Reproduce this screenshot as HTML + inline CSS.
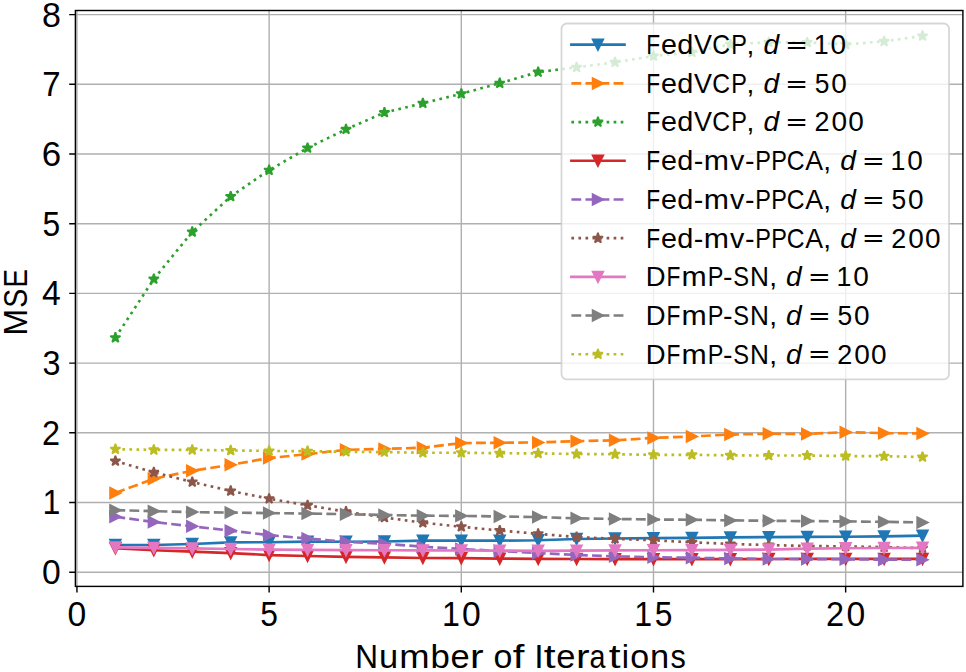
<!DOCTYPE html><html><head><meta charset="utf-8"><style>html,body{margin:0;padding:0;background:#fff;}svg{display:block;}text{font-family:"Liberation Sans",sans-serif;fill:#000;}</style></head><body>
<svg width="966" height="672" viewBox="0 0 966 672">
<rect width="966" height="672" fill="#fff"/>
<path d="M76.95 10.5 V586.4 M269.12 10.5 V586.4 M461.3 10.5 V586.4 M653.48 10.5 V586.4 M845.65 10.5 V586.4 M75.4 572.2 H962.9 M75.4 502.5 H962.9 M75.4 432.8 H962.9 M75.4 363.1 H962.9 M75.4 293.4 H962.9 M75.4 223.7 H962.9 M75.4 154 H962.9 M75.4 84.3 H962.9 M75.4 14.6 H962.9" stroke="#b0b0b0" stroke-width="1.42" fill="none"/>
<g>
<polyline points="115.39,545.02 153.82,545.02 192.25,543.97 230.69,542.37 269.12,542.23 307.56,541.67 346,541.74 384.43,541.53 422.87,540.7 461.3,540.7 499.74,540.63 538.17,540.28 576.61,539.02 615.04,538.47 653.48,538.19 691.91,537.84 730.35,537.42 768.78,537.14 807.22,536.86 845.65,536.72 884.09,536.37 922.52,535.68" stroke="#1f77b4" stroke-width="2.66" fill="none" stroke-linejoin="round" stroke-linecap="square"/>
<g fill="#1f77b4" stroke="#1f77b4" stroke-width="1.77" stroke-linejoin="miter">
<path d="M115.39 550.33L110.08 539.71L120.7 539.71ZM153.82 550.33L148.51 539.71L159.13 539.71ZM192.25 549.28L186.94 538.66L197.56 538.66ZM230.69 547.68L225.38 537.06L236 537.06ZM269.12 547.54L263.81 536.92L274.44 536.92ZM307.56 546.98L302.25 536.36L312.87 536.36ZM346 547.05L340.69 536.43L351.31 536.43ZM384.43 546.84L379.12 536.22L389.74 536.22ZM422.87 546.01L417.56 535.39L428.18 535.39ZM461.3 546.01L455.99 535.39L466.61 535.39ZM499.74 545.94L494.43 535.32L505.05 535.32ZM538.17 545.59L532.86 534.97L543.48 534.97ZM576.61 544.33L571.3 533.71L581.91 533.71ZM615.04 543.78L609.73 533.16L620.35 533.16ZM653.48 543.5L648.17 532.88L658.79 532.88ZM691.91 543.15L686.6 532.53L697.22 532.53ZM730.35 542.73L725.04 532.11L735.65 532.11ZM768.78 542.45L763.47 531.83L774.09 531.83ZM807.22 542.17L801.91 531.55L812.53 531.55ZM845.65 542.03L840.34 531.41L850.96 531.41ZM884.09 541.68L878.78 531.06L889.39 531.06ZM922.52 540.99L917.21 530.37L927.83 530.37Z"/>
</g>
<polyline points="115.39,492.95 153.82,478.8 192.25,470.72 230.69,464.86 269.12,458.03 307.56,454.13 346,449.81 384.43,448.9 422.87,447.72 461.3,443.05 499.74,442.77 538.17,442.42 576.61,441.16 615.04,440.33 653.48,437.89 691.91,436.49 730.35,434.47 768.78,433.78 807.22,433.92 845.65,432.17 884.09,433.15 922.52,433.5" stroke="#ff7f0e" stroke-width="2.66" fill="none" stroke-linejoin="round" stroke-linecap="butt" stroke-dasharray="9.82,4.25"/>
<g fill="#ff7f0e" stroke="#ff7f0e" stroke-width="1.77" stroke-linejoin="miter">
<path d="M120.7 492.95L110.08 487.64L110.08 498.26ZM159.13 478.8L148.51 473.49L148.51 484.11ZM197.56 470.72L186.94 465.41L186.94 476.03ZM236 464.86L225.38 459.55L225.38 470.17ZM274.44 458.03L263.81 452.72L263.81 463.34ZM312.87 454.13L302.25 448.82L302.25 459.44ZM351.31 449.81L340.69 444.5L340.69 455.12ZM389.74 448.9L379.12 443.59L379.12 454.21ZM428.18 447.72L417.56 442.41L417.56 453.03ZM466.61 443.05L455.99 437.74L455.99 448.36ZM505.05 442.77L494.43 437.46L494.43 448.08ZM543.48 442.42L532.86 437.11L532.86 447.73ZM581.91 441.16L571.3 435.85L571.3 446.47ZM620.35 440.33L609.73 435.02L609.73 445.64ZM658.79 437.89L648.17 432.58L648.17 443.2ZM697.22 436.49L686.6 431.18L686.6 441.8ZM735.65 434.47L725.04 429.16L725.04 439.78ZM774.09 433.78L763.47 428.47L763.47 439.09ZM812.53 433.92L801.91 428.61L801.91 439.23ZM850.96 432.17L840.34 426.86L840.34 437.48ZM889.39 433.15L878.78 427.84L878.78 438.46ZM927.83 433.5L917.21 428.19L917.21 438.81Z"/>
</g>
<polyline points="115.39,337.66 153.82,279.04 192.25,231.92 230.69,196.52 269.12,170.17 307.56,148.01 346,129.33 384.43,112.6 422.87,103.26 461.3,93.78 499.74,83.18 538.17,72.1 576.61,67.36 615.04,62.27 653.48,56.07 691.91,52.31 730.35,44.29 768.78,42.34 807.22,42.48 845.65,44.43 884.09,41.36 922.52,35.93" stroke="#2ca02c" stroke-width="2.66" fill="none" stroke-linejoin="round" stroke-linecap="butt" stroke-dasharray="2.66,4.38"/>
<g fill="#2ca02c" stroke="#2ca02c" stroke-width="1.77" stroke-linejoin="bevel">
<path d="M115.39 332.35L114.19 336.02L110.33 336.02L113.46 338.29L112.26 341.96L115.39 339.69L118.51 341.96L117.31 338.29L120.44 336.02L116.58 336.02ZM153.82 273.73L152.63 277.4L148.77 277.4L151.89 279.67L150.7 283.34L153.82 281.07L156.94 283.34L155.75 279.67L158.87 277.4L155.01 277.4ZM192.25 226.61L191.06 230.28L187.2 230.28L190.33 232.55L189.13 236.22L192.25 233.95L195.38 236.22L194.18 232.55L197.31 230.28L193.45 230.28ZM230.69 191.21L229.5 194.88L225.64 194.88L228.76 197.14L227.57 200.81L230.69 198.55L233.81 200.81L232.62 197.14L235.74 194.88L231.88 194.88ZM269.12 164.86L267.93 168.53L264.07 168.53L267.2 170.8L266 174.47L269.12 172.2L272.25 174.47L271.05 170.8L274.18 168.53L270.32 168.53ZM307.56 142.7L306.37 146.36L302.51 146.36L305.63 148.63L304.44 152.3L307.56 150.03L310.68 152.3L309.49 148.63L312.61 146.36L308.75 146.36ZM346 124.02L344.8 127.69L340.94 127.69L344.07 129.95L342.87 133.62L346 131.35L349.12 133.62L347.92 129.95L351.05 127.69L347.19 127.69ZM384.43 107.29L383.24 110.96L379.38 110.96L382.5 113.22L381.31 116.89L384.43 114.63L387.55 116.89L386.36 113.22L389.48 110.96L385.62 110.96ZM422.87 97.95L421.67 101.62L417.81 101.62L420.94 103.89L419.74 107.55L422.87 105.29L425.99 107.55L424.79 103.89L427.92 101.62L424.06 101.62ZM461.3 88.47L460.11 92.14L456.25 92.14L459.37 94.41L458.18 98.08L461.3 95.81L464.42 98.08L463.23 94.41L466.35 92.14L462.49 92.14ZM499.74 77.87L498.54 81.54L494.68 81.54L497.81 83.81L496.61 87.48L499.74 85.21L502.86 87.48L501.66 83.81L504.79 81.54L500.93 81.54ZM538.17 66.79L536.98 70.46L533.12 70.46L536.24 72.73L535.05 76.4L538.17 74.13L541.29 76.4L540.1 72.73L543.22 70.46L539.36 70.46ZM576.61 62.05L575.41 65.72L571.55 65.72L574.68 67.99L573.48 71.66L576.61 69.39L579.73 71.66L578.53 67.99L581.66 65.72L577.8 65.72ZM615.04 56.96L613.85 60.63L609.99 60.63L613.11 62.9L611.92 66.57L615.04 64.3L618.16 66.57L616.97 62.9L620.09 60.63L616.23 60.63ZM653.48 50.76L652.28 54.43L648.42 54.43L651.55 56.7L650.35 60.37L653.48 58.1L656.6 60.37L655.4 56.7L658.53 54.43L654.67 54.43ZM691.91 47L690.72 50.67L686.86 50.67L689.98 52.93L688.79 56.6L691.91 54.34L695.03 56.6L693.84 52.93L696.96 50.67L693.1 50.67ZM730.35 38.98L729.15 42.65L725.29 42.65L728.42 44.92L727.22 48.59L730.35 46.32L733.47 48.59L732.27 44.92L735.4 42.65L731.54 42.65ZM768.78 37.03L767.59 40.7L763.73 40.7L766.85 42.97L765.66 46.64L768.78 44.37L771.9 46.64L770.71 42.97L773.83 40.7L769.97 40.7ZM807.22 37.17L806.02 40.84L802.16 40.84L805.29 43.11L804.09 46.78L807.22 44.51L810.34 46.78L809.14 43.11L812.27 40.84L808.41 40.84ZM845.65 39.12L844.46 42.79L840.6 42.79L843.72 45.06L842.53 48.73L845.65 46.46L848.77 48.73L847.58 45.06L850.7 42.79L846.84 42.79ZM884.09 36.05L882.89 39.72L879.03 39.72L882.16 41.99L880.96 45.66L884.09 43.39L887.21 45.66L886.01 41.99L889.14 39.72L885.28 39.72ZM922.52 30.62L921.33 34.29L917.47 34.29L920.59 36.55L919.4 40.22L922.52 37.96L925.64 40.22L924.45 36.55L927.57 34.29L923.71 34.29Z"/>
</g>
<polyline points="115.39,548.22 153.82,550.24 192.25,551.64 230.69,553.1 269.12,555.05 307.56,556.03 346,556.87 384.43,557.42 422.87,557.98 461.3,558.19 499.74,558.61 538.17,558.89 576.61,559.03 615.04,559.1 653.48,559.17 691.91,559.17 730.35,559.17 768.78,559.03 807.22,558.89 845.65,558.89 884.09,558.89 922.52,558.89" stroke="#d62728" stroke-width="2.66" fill="none" stroke-linejoin="round" stroke-linecap="square"/>
<g fill="#d62728" stroke="#d62728" stroke-width="1.77" stroke-linejoin="miter">
<path d="M115.39 553.53L110.08 542.91L120.7 542.91ZM153.82 555.55L148.51 544.93L159.13 544.93ZM192.25 556.95L186.94 546.33L197.56 546.33ZM230.69 558.41L225.38 547.79L236 547.79ZM269.12 560.36L263.81 549.74L274.44 549.74ZM307.56 561.34L302.25 550.72L312.87 550.72ZM346 562.18L340.69 551.56L351.31 551.56ZM384.43 562.73L379.12 552.11L389.74 552.11ZM422.87 563.29L417.56 552.67L428.18 552.67ZM461.3 563.5L455.99 552.88L466.61 552.88ZM499.74 563.92L494.43 553.3L505.05 553.3ZM538.17 564.2L532.86 553.58L543.48 553.58ZM576.61 564.34L571.3 553.72L581.91 553.72ZM615.04 564.41L609.73 553.79L620.35 553.79ZM653.48 564.48L648.17 553.86L658.79 553.86ZM691.91 564.48L686.6 553.86L697.22 553.86ZM730.35 564.48L725.04 553.86L735.65 553.86ZM768.78 564.34L763.47 553.72L774.09 553.72ZM807.22 564.2L801.91 553.58L812.53 553.58ZM845.65 564.2L840.34 553.58L850.96 553.58ZM884.09 564.2L878.78 553.58L889.39 553.58ZM922.52 564.2L917.21 553.58L927.83 553.58Z"/>
</g>
<polyline points="115.39,516.72 153.82,522.02 192.25,526.34 230.69,530.66 269.12,535.19 307.56,538.53 346,541.74 384.43,543.76 422.87,546.69 461.3,548.99 499.74,551.01 538.17,553.1 576.61,554.91 615.04,556.38 653.48,557.21 691.91,557.77 730.35,558.4 768.78,558.96 807.22,559.1 845.65,559.31 884.09,559.65 922.52,559.79" stroke="#9467bd" stroke-width="2.66" fill="none" stroke-linejoin="round" stroke-linecap="butt" stroke-dasharray="9.82,4.25"/>
<g fill="#9467bd" stroke="#9467bd" stroke-width="1.77" stroke-linejoin="miter">
<path d="M120.7 516.72L110.08 511.41L110.08 522.03ZM159.13 522.02L148.51 516.71L148.51 527.33ZM197.56 526.34L186.94 521.03L186.94 531.65ZM236 530.66L225.38 525.35L225.38 535.97ZM274.44 535.19L263.81 529.88L263.81 540.5ZM312.87 538.53L302.25 533.22L302.25 543.84ZM351.31 541.74L340.69 536.43L340.69 547.05ZM389.74 543.76L379.12 538.45L379.12 549.07ZM428.18 546.69L417.56 541.38L417.56 552ZM466.61 548.99L455.99 543.68L455.99 554.3ZM505.05 551.01L494.43 545.7L494.43 556.32ZM543.48 553.1L532.86 547.79L532.86 558.41ZM581.91 554.91L571.3 549.6L571.3 560.22ZM620.35 556.38L609.73 551.07L609.73 561.69ZM658.79 557.21L648.17 551.9L648.17 562.52ZM697.22 557.77L686.6 552.46L686.6 563.08ZM735.65 558.4L725.04 553.09L725.04 563.71ZM774.09 558.96L763.47 553.65L763.47 564.27ZM812.53 559.1L801.91 553.79L801.91 564.41ZM850.96 559.31L840.34 554L840.34 564.62ZM889.39 559.65L878.78 554.34L878.78 564.96ZM927.83 559.79L917.21 554.48L917.21 565.1Z"/>
</g>
<polyline points="115.39,461.1 153.82,472.39 192.25,482.01 230.69,490.93 269.12,498.74 307.56,505.29 346,511.7 384.43,517.49 422.87,522.71 461.3,526.76 499.74,530.52 538.17,533.8 576.61,537.07 615.04,538.81 653.48,540.28 691.91,542.3 730.35,543.9 768.78,545.09 807.22,545.99 845.65,546.41 884.09,547.11 922.52,548.15" stroke="#8c564b" stroke-width="2.66" fill="none" stroke-linejoin="round" stroke-linecap="butt" stroke-dasharray="2.66,4.38"/>
<g fill="#8c564b" stroke="#8c564b" stroke-width="1.77" stroke-linejoin="bevel">
<path d="M115.39 455.79L114.19 459.46L110.33 459.46L113.46 461.72L112.26 465.39L115.39 463.13L118.51 465.39L117.31 461.72L120.44 459.46L116.58 459.46ZM153.82 467.08L152.63 470.75L148.77 470.75L151.89 473.02L150.7 476.69L153.82 474.42L156.94 476.69L155.75 473.02L158.87 470.75L155.01 470.75ZM192.25 476.7L191.06 480.37L187.2 480.37L190.33 482.63L189.13 486.3L192.25 484.04L195.38 486.3L194.18 482.63L197.31 480.37L193.45 480.37ZM230.69 485.62L229.5 489.29L225.64 489.29L228.76 491.56L227.57 495.23L230.69 492.96L233.81 495.23L232.62 491.56L235.74 489.29L231.88 489.29ZM269.12 493.43L267.93 497.1L264.07 497.1L267.2 499.36L266 503.03L269.12 500.76L272.25 503.03L271.05 499.36L274.18 497.1L270.32 497.1ZM307.56 499.98L306.37 503.65L302.51 503.65L305.63 505.91L304.44 509.58L307.56 507.32L310.68 509.58L309.49 505.91L312.61 503.65L308.75 503.65ZM346 506.39L344.8 510.06L340.94 510.06L344.07 512.33L342.87 516L346 513.73L349.12 516L347.92 512.33L351.05 510.06L347.19 510.06ZM384.43 512.18L383.24 515.84L379.38 515.84L382.5 518.11L381.31 521.78L384.43 519.51L387.55 521.78L386.36 518.11L389.48 515.84L385.62 515.84ZM422.87 517.4L421.67 521.07L417.81 521.07L420.94 523.34L419.74 527.01L422.87 524.74L425.99 527.01L424.79 523.34L427.92 521.07L424.06 521.07ZM461.3 521.45L460.11 525.11L456.25 525.11L459.37 527.38L458.18 531.05L461.3 528.78L464.42 531.05L463.23 527.38L466.35 525.11L462.49 525.11ZM499.74 525.21L498.54 528.88L494.68 528.88L497.81 531.15L496.61 534.82L499.74 532.55L502.86 534.82L501.66 531.15L504.79 528.88L500.93 528.88ZM538.17 528.49L536.98 532.15L533.12 532.15L536.24 534.42L535.05 538.09L538.17 535.82L541.29 538.09L540.1 534.42L543.22 532.15L539.36 532.15ZM576.61 531.76L575.41 535.43L571.55 535.43L574.68 537.7L573.48 541.37L576.61 539.1L579.73 541.37L578.53 537.7L581.66 535.43L577.8 535.43ZM615.04 533.5L613.85 537.17L609.99 537.17L613.11 539.44L611.92 543.11L615.04 540.84L618.16 543.11L616.97 539.44L620.09 537.17L616.23 537.17ZM653.48 534.97L652.28 538.64L648.42 538.64L651.55 540.9L650.35 544.57L653.48 542.31L656.6 544.57L655.4 540.9L658.53 538.64L654.67 538.64ZM691.91 536.99L690.72 540.66L686.86 540.66L689.98 542.93L688.79 546.59L691.91 544.33L695.03 546.59L693.84 542.93L696.96 540.66L693.1 540.66ZM730.35 538.59L729.15 542.26L725.29 542.26L728.42 544.53L727.22 548.2L730.35 545.93L733.47 548.2L732.27 544.53L735.4 542.26L731.54 542.26ZM768.78 539.78L767.59 543.45L763.73 543.45L766.85 545.71L765.66 549.38L768.78 547.11L771.9 549.38L770.71 545.71L773.83 543.45L769.97 543.45ZM807.22 540.68L806.02 544.35L802.16 544.35L805.29 546.62L804.09 550.29L807.22 548.02L810.34 550.29L809.14 546.62L812.27 544.35L808.41 544.35ZM845.65 541.1L844.46 544.77L840.6 544.77L843.72 547.04L842.53 550.71L845.65 548.44L848.77 550.71L847.58 547.04L850.7 544.77L846.84 544.77ZM884.09 541.8L882.89 545.47L879.03 545.47L882.16 547.73L880.96 551.4L884.09 549.14L887.21 551.4L886.01 547.73L889.14 545.47L885.28 545.47ZM922.52 542.84L921.33 546.51L917.47 546.51L920.59 548.78L919.4 552.45L922.52 550.18L925.64 552.45L924.45 548.78L927.57 546.51L923.71 546.51Z"/>
</g>
<polyline points="115.39,547.39 153.82,547.87 192.25,548.36 230.69,548.99 269.12,549.69 307.56,549.9 346,550.11 384.43,550.24 422.87,550.38 461.3,550.52 499.74,550.66 538.17,550.8 576.61,550.59 615.04,550.38 653.48,550.24 691.91,550.11 730.35,549.9 768.78,549.55 807.22,548.64 845.65,548.22 884.09,548.01 922.52,547.81" stroke="#e377c2" stroke-width="2.66" fill="none" stroke-linejoin="round" stroke-linecap="square"/>
<g fill="#e377c2" stroke="#e377c2" stroke-width="1.77" stroke-linejoin="miter">
<path d="M115.39 552.7L110.08 542.08L120.7 542.08ZM153.82 553.18L148.51 542.56L159.13 542.56ZM192.25 553.67L186.94 543.05L197.56 543.05ZM230.69 554.3L225.38 543.68L236 543.68ZM269.12 555L263.81 544.38L274.44 544.38ZM307.56 555.21L302.25 544.59L312.87 544.59ZM346 555.42L340.69 544.8L351.31 544.8ZM384.43 555.55L379.12 544.93L389.74 544.93ZM422.87 555.69L417.56 545.07L428.18 545.07ZM461.3 555.83L455.99 545.21L466.61 545.21ZM499.74 555.97L494.43 545.35L505.05 545.35ZM538.17 556.11L532.86 545.49L543.48 545.49ZM576.61 555.9L571.3 545.28L581.91 545.28ZM615.04 555.69L609.73 545.07L620.35 545.07ZM653.48 555.55L648.17 544.93L658.79 544.93ZM691.91 555.42L686.6 544.8L697.22 544.8ZM730.35 555.21L725.04 544.59L735.65 544.59ZM768.78 554.86L763.47 544.24L774.09 544.24ZM807.22 553.95L801.91 543.33L812.53 543.33ZM845.65 553.53L840.34 542.91L850.96 542.91ZM884.09 553.32L878.78 542.7L889.39 542.7ZM922.52 553.12L917.21 542.5L927.83 542.5Z"/>
</g>
<polyline points="115.39,510.17 153.82,511.14 192.25,512.12 230.69,512.61 269.12,513.09 307.56,513.58 346,514.14 384.43,515.05 422.87,515.67 461.3,515.88 499.74,516.44 538.17,517.07 576.61,518.32 615.04,518.95 653.48,519.51 691.91,519.79 730.35,520.41 768.78,520.76 807.22,521.11 845.65,521.39 884.09,521.88 922.52,522.43" stroke="#7f7f7f" stroke-width="2.66" fill="none" stroke-linejoin="round" stroke-linecap="butt" stroke-dasharray="9.82,4.25"/>
<g fill="#7f7f7f" stroke="#7f7f7f" stroke-width="1.77" stroke-linejoin="miter">
<path d="M120.7 510.17L110.08 504.86L110.08 515.48ZM159.13 511.14L148.51 505.83L148.51 516.45ZM197.56 512.12L186.94 506.81L186.94 517.43ZM236 512.61L225.38 507.3L225.38 517.92ZM274.44 513.09L263.81 507.78L263.81 518.4ZM312.87 513.58L302.25 508.27L302.25 518.89ZM351.31 514.14L340.69 508.83L340.69 519.45ZM389.74 515.05L379.12 509.74L379.12 520.36ZM428.18 515.67L417.56 510.36L417.56 520.98ZM466.61 515.88L455.99 510.57L455.99 521.19ZM505.05 516.44L494.43 511.13L494.43 521.75ZM543.48 517.07L532.86 511.76L532.86 522.38ZM581.91 518.32L571.3 513.01L571.3 523.63ZM620.35 518.95L609.73 513.64L609.73 524.26ZM658.79 519.51L648.17 514.2L648.17 524.82ZM697.22 519.79L686.6 514.48L686.6 525.1ZM735.65 520.41L725.04 515.1L725.04 525.72ZM774.09 520.76L763.47 515.45L763.47 526.07ZM812.53 521.11L801.91 515.8L801.91 526.42ZM850.96 521.39L840.34 516.08L840.34 526.7ZM889.39 521.88L878.78 516.57L878.78 527.19ZM927.83 522.43L917.21 517.12L917.21 527.74Z"/>
</g>
<polyline points="115.39,449.18 153.82,449.88 192.25,449.88 230.69,450.43 269.12,450.92 307.56,451.2 346,451.83 384.43,452.11 422.87,452.73 461.3,452.73 499.74,453.22 538.17,453.43 576.61,453.99 615.04,454.2 653.48,454.83 691.91,454.83 730.35,455.38 768.78,455.52 807.22,455.52 845.65,456.01 884.09,456.22 922.52,456.99" stroke="#bcbd22" stroke-width="2.66" fill="none" stroke-linejoin="round" stroke-linecap="butt" stroke-dasharray="2.66,4.38"/>
<g fill="#bcbd22" stroke="#bcbd22" stroke-width="1.77" stroke-linejoin="bevel">
<path d="M115.39 443.87L114.19 447.54L110.33 447.54L113.46 449.81L112.26 453.48L115.39 451.21L118.51 453.48L117.31 449.81L120.44 447.54L116.58 447.54ZM153.82 444.57L152.63 448.24L148.77 448.24L151.89 450.5L150.7 454.17L153.82 451.9L156.94 454.17L155.75 450.5L158.87 448.24L155.01 448.24ZM192.25 444.57L191.06 448.24L187.2 448.24L190.33 450.5L189.13 454.17L192.25 451.9L195.38 454.17L194.18 450.5L197.31 448.24L193.45 448.24ZM230.69 445.12L229.5 448.79L225.64 448.79L228.76 451.06L227.57 454.73L230.69 452.46L233.81 454.73L232.62 451.06L235.74 448.79L231.88 448.79ZM269.12 445.61L267.93 449.28L264.07 449.28L267.2 451.55L266 455.22L269.12 452.95L272.25 455.22L271.05 451.55L274.18 449.28L270.32 449.28ZM307.56 445.89L306.37 449.56L302.51 449.56L305.63 451.83L304.44 455.5L307.56 453.23L310.68 455.5L309.49 451.83L312.61 449.56L308.75 449.56ZM346 446.52L344.8 450.19L340.94 450.19L344.07 452.45L342.87 456.12L346 453.86L349.12 456.12L347.92 452.45L351.05 450.19L347.19 450.19ZM384.43 446.8L383.24 450.47L379.38 450.47L382.5 452.73L381.31 456.4L384.43 454.14L387.55 456.4L386.36 452.73L389.48 450.47L385.62 450.47ZM422.87 447.42L421.67 451.09L417.81 451.09L420.94 453.36L419.74 457.03L422.87 454.76L425.99 457.03L424.79 453.36L427.92 451.09L424.06 451.09ZM461.3 447.42L460.11 451.09L456.25 451.09L459.37 453.36L458.18 457.03L461.3 454.76L464.42 457.03L463.23 453.36L466.35 451.09L462.49 451.09ZM499.74 447.91L498.54 451.58L494.68 451.58L497.81 453.85L496.61 457.52L499.74 455.25L502.86 457.52L501.66 453.85L504.79 451.58L500.93 451.58ZM538.17 448.12L536.98 451.79L533.12 451.79L536.24 454.06L535.05 457.73L538.17 455.46L541.29 457.73L540.1 454.06L543.22 451.79L539.36 451.79ZM576.61 448.68L575.41 452.35L571.55 452.35L574.68 454.62L573.48 458.28L576.61 456.02L579.73 458.28L578.53 454.62L581.66 452.35L577.8 452.35ZM615.04 448.89L613.85 452.56L609.99 452.56L613.11 454.82L611.92 458.49L615.04 456.23L618.16 458.49L616.97 454.82L620.09 452.56L616.23 452.56ZM653.48 449.52L652.28 453.18L648.42 453.18L651.55 455.45L650.35 459.12L653.48 456.85L656.6 459.12L655.4 455.45L658.53 453.18L654.67 453.18ZM691.91 449.52L690.72 453.18L686.86 453.18L689.98 455.45L688.79 459.12L691.91 456.85L695.03 459.12L693.84 455.45L696.96 453.18L693.1 453.18ZM730.35 450.07L729.15 453.74L725.29 453.74L728.42 456.01L727.22 459.68L730.35 457.41L733.47 459.68L732.27 456.01L735.4 453.74L731.54 453.74ZM768.78 450.21L767.59 453.88L763.73 453.88L766.85 456.15L765.66 459.82L768.78 457.55L771.9 459.82L770.71 456.15L773.83 453.88L769.97 453.88ZM807.22 450.21L806.02 453.88L802.16 453.88L805.29 456.15L804.09 459.82L807.22 457.55L810.34 459.82L809.14 456.15L812.27 453.88L808.41 453.88ZM845.65 450.7L844.46 454.37L840.6 454.37L843.72 456.64L842.53 460.31L845.65 458.04L848.77 460.31L847.58 456.64L850.7 454.37L846.84 454.37ZM884.09 450.91L882.89 454.58L879.03 454.58L882.16 456.85L880.96 460.52L884.09 458.25L887.21 460.52L886.01 456.85L889.14 454.58L885.28 454.58ZM922.52 451.68L921.33 455.35L917.47 455.35L920.59 457.61L919.4 461.28L922.52 459.01L925.64 461.28L924.45 457.61L927.57 455.35L923.71 455.35Z"/>
</g>
</g>
<rect x="75.4" y="10.5" width="887.5" height="575.9" fill="none" stroke="#000" stroke-width="1.42" stroke-linejoin="miter"/>
<path d="M76.95 586.4 v6.2 M269.12 586.4 v6.2 M461.3 586.4 v6.2 M653.48 586.4 v6.2 M845.65 586.4 v6.2 M75.4 572.2 h-6.2 M75.4 502.5 h-6.2 M75.4 432.8 h-6.2 M75.4 363.1 h-6.2 M75.4 293.4 h-6.2 M75.4 223.7 h-6.2 M75.4 154 h-6.2 M75.4 84.3 h-6.2 M75.4 14.6 h-6.2" stroke="#000" stroke-width="1.42" fill="none"/>
<text x="42.11" y="584.17" font-size="34.2" textLength="18.73" lengthAdjust="spacingAndGlyphs">0</text>
<text x="42.38" y="514.47" font-size="34.2" textLength="17.89" lengthAdjust="spacingAndGlyphs">1</text>
<text x="42.03" y="444.77" font-size="34.2" textLength="18.05" lengthAdjust="spacingAndGlyphs">2</text>
<text x="42.52" y="375.07" font-size="34.2" textLength="17.99" lengthAdjust="spacingAndGlyphs">3</text>
<text x="42.11" y="305.37" font-size="34.2" textLength="18.73" lengthAdjust="spacingAndGlyphs">4</text>
<text x="42.51" y="235.67" font-size="34.2" textLength="17.68" lengthAdjust="spacingAndGlyphs">5</text>
<text x="41.78" y="165.97" font-size="34.2" textLength="19.39" lengthAdjust="spacingAndGlyphs">6</text>
<text x="42.25" y="96.27" font-size="34.2" textLength="18.32" lengthAdjust="spacingAndGlyphs">7</text>
<text x="42.01" y="26.57" font-size="34.2" textLength="18.93" lengthAdjust="spacingAndGlyphs">8</text>
<text y="626.00" font-size="34.20"><tspan x="67.58" textLength="18.73" lengthAdjust="spacingAndGlyphs">0</tspan></text>
<text y="626.00" font-size="34.20"><tspan x="260.15" textLength="17.68" lengthAdjust="spacingAndGlyphs">5</tspan></text>
<text y="626.00" font-size="34.20"><tspan x="442.03" textLength="17.89" lengthAdjust="spacingAndGlyphs">1</tspan><tspan x="462.09" textLength="18.73" lengthAdjust="spacingAndGlyphs">0</tspan></text>
<text y="626.00" font-size="34.20"><tspan x="634.21" textLength="17.89" lengthAdjust="spacingAndGlyphs">1</tspan><tspan x="654.67" textLength="17.68" lengthAdjust="spacingAndGlyphs">5</tspan></text>
<text y="626.00" font-size="34.20"><tspan x="826.03" textLength="18.05" lengthAdjust="spacingAndGlyphs">2</tspan><tspan x="846.44" textLength="18.73" lengthAdjust="spacingAndGlyphs">0</tspan></text>
<text y="667.50" font-size="33.90"><tspan x="355.22" textLength="22.79" lengthAdjust="spacingAndGlyphs">N</tspan><tspan x="379.05" textLength="19.16" lengthAdjust="spacingAndGlyphs">u</tspan><tspan x="399.30" textLength="30.32" lengthAdjust="spacingAndGlyphs">m</tspan><tspan x="430.60" textLength="19.33" lengthAdjust="spacingAndGlyphs">b</tspan><tspan x="450.52" textLength="19.19" lengthAdjust="spacingAndGlyphs">e</tspan><tspan x="470.06" textLength="13.63" lengthAdjust="spacingAndGlyphs">r</tspan> <tspan x="493.51" textLength="18.89" lengthAdjust="spacingAndGlyphs">o</tspan><tspan x="512.86" textLength="11.66" lengthAdjust="spacingAndGlyphs">f</tspan> <tspan x="534.14" textLength="9.39" lengthAdjust="spacingAndGlyphs">I</tspan><tspan x="543.76" textLength="11.86" lengthAdjust="spacingAndGlyphs">t</tspan><tspan x="556.37" textLength="19.19" lengthAdjust="spacingAndGlyphs">e</tspan><tspan x="575.91" textLength="13.63" lengthAdjust="spacingAndGlyphs">r</tspan><tspan x="589.56" textLength="15.98" lengthAdjust="spacingAndGlyphs">a</tspan><tspan x="608.66" textLength="11.86" lengthAdjust="spacingAndGlyphs">t</tspan><tspan x="621.80" textLength="7.26" lengthAdjust="spacingAndGlyphs">i</tspan><tspan x="630.19" textLength="18.89" lengthAdjust="spacingAndGlyphs">o</tspan><tspan x="650.01" textLength="19.16" lengthAdjust="spacingAndGlyphs">n</tspan><tspan x="670.53" textLength="15.31" lengthAdjust="spacingAndGlyphs">s</tspan></text>
<text transform="rotate(-90)" y="27.30" font-size="33.90"><tspan x="-335.61" textLength="26.54" lengthAdjust="spacingAndGlyphs">M</tspan><tspan x="-307.76" textLength="19.00" lengthAdjust="spacingAndGlyphs">S</tspan><tspan x="-287.42" textLength="18.47" lengthAdjust="spacingAndGlyphs">E</tspan></text>
<rect x="561.5" y="23.5" width="387.5" height="355.9" rx="5.31" ry="5.31" fill="#fff" fill-opacity="0.8" stroke="#ccc" stroke-opacity="0.8" stroke-width="1.77"/>
<path d="M571.4 44.7 H624.5" stroke="#1f77b4" stroke-width="2.66" fill="none" stroke-linecap="square"/>
<path d="M597.95 50.01L592.64 39.39L603.26 39.39Z" fill="#1f77b4" stroke="#1f77b4" stroke-width="1.77" stroke-linejoin="miter"/>
<text y="54.05" font-size="28.10"><tspan x="646.14" textLength="13.90" lengthAdjust="spacingAndGlyphs">F</tspan><tspan x="660.92" textLength="15.95" lengthAdjust="spacingAndGlyphs">e</tspan><tspan x="677.26" textLength="16.05" lengthAdjust="spacingAndGlyphs">d</tspan><tspan x="693.95" textLength="17.97" lengthAdjust="spacingAndGlyphs">V</tspan><tspan x="712.26" textLength="17.80" lengthAdjust="spacingAndGlyphs">C</tspan><tspan x="731.24" textLength="15.66" lengthAdjust="spacingAndGlyphs">P</tspan><tspan x="746.61" textLength="7.81" lengthAdjust="spacingAndGlyphs">,</tspan></text>
<text x="763.4" y="54.05" font-size="28.1" font-style="italic">d</text>
<text x="786.6" y="51.95" font-size="18.8" font-weight="bold" textLength="20.11" lengthAdjust="spacingAndGlyphs">=</text>
<text y="54.05" font-size="28.10"><tspan x="813.81" textLength="14.87" lengthAdjust="spacingAndGlyphs">1</tspan><tspan x="830.48" textLength="15.57" lengthAdjust="spacingAndGlyphs">0</tspan></text>
<path d="M571.4 83.39 H624.5" stroke="#ff7f0e" stroke-width="2.66" fill="none" stroke-linecap="butt" stroke-dasharray="9.82,4.25"/>
<path d="M603.26 83.39L592.64 78.08L592.64 88.7Z" fill="#ff7f0e" stroke="#ff7f0e" stroke-width="1.77" stroke-linejoin="miter"/>
<text y="92.74" font-size="28.10"><tspan x="646.14" textLength="13.90" lengthAdjust="spacingAndGlyphs">F</tspan><tspan x="660.92" textLength="15.95" lengthAdjust="spacingAndGlyphs">e</tspan><tspan x="677.26" textLength="16.05" lengthAdjust="spacingAndGlyphs">d</tspan><tspan x="693.95" textLength="17.97" lengthAdjust="spacingAndGlyphs">V</tspan><tspan x="712.26" textLength="17.80" lengthAdjust="spacingAndGlyphs">C</tspan><tspan x="731.24" textLength="15.66" lengthAdjust="spacingAndGlyphs">P</tspan><tspan x="746.61" textLength="7.81" lengthAdjust="spacingAndGlyphs">,</tspan></text>
<text x="763.4" y="92.74" font-size="28.1" font-style="italic">d</text>
<text x="786.6" y="90.64" font-size="18.8" font-weight="bold" textLength="20.11" lengthAdjust="spacingAndGlyphs">=</text>
<text y="92.74" font-size="28.10"><tspan x="814.79" textLength="14.69" lengthAdjust="spacingAndGlyphs">5</tspan><tspan x="831.35" textLength="15.57" lengthAdjust="spacingAndGlyphs">0</tspan></text>
<path d="M571.4 122.08 H624.5" stroke="#2ca02c" stroke-width="2.66" fill="none" stroke-linecap="butt" stroke-dasharray="2.66,4.38"/>
<path d="M597.95 116.77L596.76 120.44L592.9 120.44L596.02 122.71L594.83 126.38L597.95 124.11L601.07 126.38L599.88 122.71L603 120.44L599.14 120.44Z" fill="#2ca02c" stroke="#2ca02c" stroke-width="1.77" stroke-linejoin="bevel"/>
<text y="131.43" font-size="28.10"><tspan x="646.14" textLength="13.90" lengthAdjust="spacingAndGlyphs">F</tspan><tspan x="660.92" textLength="15.95" lengthAdjust="spacingAndGlyphs">e</tspan><tspan x="677.26" textLength="16.05" lengthAdjust="spacingAndGlyphs">d</tspan><tspan x="693.95" textLength="17.97" lengthAdjust="spacingAndGlyphs">V</tspan><tspan x="712.26" textLength="17.80" lengthAdjust="spacingAndGlyphs">C</tspan><tspan x="731.24" textLength="15.66" lengthAdjust="spacingAndGlyphs">P</tspan><tspan x="746.61" textLength="7.81" lengthAdjust="spacingAndGlyphs">,</tspan></text>
<text x="763.4" y="131.43" font-size="28.1" font-style="italic">d</text>
<text x="786.6" y="129.33" font-size="18.8" font-weight="bold" textLength="20.11" lengthAdjust="spacingAndGlyphs">=</text>
<text y="131.43" font-size="28.10"><tspan x="814.49" textLength="15.00" lengthAdjust="spacingAndGlyphs">2</tspan><tspan x="831.45" textLength="15.57" lengthAdjust="spacingAndGlyphs">0</tspan><tspan x="848.35" textLength="15.57" lengthAdjust="spacingAndGlyphs">0</tspan></text>
<path d="M571.4 160.77 H624.5" stroke="#d62728" stroke-width="2.66" fill="none" stroke-linecap="square"/>
<path d="M597.95 166.08L592.64 155.46L603.26 155.46Z" fill="#d62728" stroke="#d62728" stroke-width="1.77" stroke-linejoin="miter"/>
<text y="170.12" font-size="28.10"><tspan x="646.14" textLength="13.90" lengthAdjust="spacingAndGlyphs">F</tspan><tspan x="660.92" textLength="15.95" lengthAdjust="spacingAndGlyphs">e</tspan><tspan x="677.26" textLength="16.05" lengthAdjust="spacingAndGlyphs">d</tspan><tspan x="693.88" textLength="9.53" lengthAdjust="spacingAndGlyphs">-</tspan><tspan x="703.84" textLength="25.20" lengthAdjust="spacingAndGlyphs">m</tspan><tspan x="730.00" textLength="14.33" lengthAdjust="spacingAndGlyphs">v</tspan><tspan x="745.04" textLength="9.53" lengthAdjust="spacingAndGlyphs">-</tspan><tspan x="755.27" textLength="15.66" lengthAdjust="spacingAndGlyphs">P</tspan><tspan x="771.28" textLength="15.66" lengthAdjust="spacingAndGlyphs">P</tspan><tspan x="786.85" textLength="17.80" lengthAdjust="spacingAndGlyphs">C</tspan><tspan x="805.31" textLength="17.84" lengthAdjust="spacingAndGlyphs">A</tspan><tspan x="823.36" textLength="7.81" lengthAdjust="spacingAndGlyphs">,</tspan></text>
<text x="840.15" y="170.12" font-size="28.1" font-style="italic">d</text>
<text x="863.35" y="168.02" font-size="18.8" font-weight="bold" textLength="20.11" lengthAdjust="spacingAndGlyphs">=</text>
<text y="170.12" font-size="28.10"><tspan x="890.56" textLength="14.87" lengthAdjust="spacingAndGlyphs">1</tspan><tspan x="907.23" textLength="15.57" lengthAdjust="spacingAndGlyphs">0</tspan></text>
<path d="M571.4 199.46 H624.5" stroke="#9467bd" stroke-width="2.66" fill="none" stroke-linecap="butt" stroke-dasharray="9.82,4.25"/>
<path d="M603.26 199.46L592.64 194.15L592.64 204.77Z" fill="#9467bd" stroke="#9467bd" stroke-width="1.77" stroke-linejoin="miter"/>
<text y="208.81" font-size="28.10"><tspan x="646.14" textLength="13.90" lengthAdjust="spacingAndGlyphs">F</tspan><tspan x="660.92" textLength="15.95" lengthAdjust="spacingAndGlyphs">e</tspan><tspan x="677.26" textLength="16.05" lengthAdjust="spacingAndGlyphs">d</tspan><tspan x="693.88" textLength="9.53" lengthAdjust="spacingAndGlyphs">-</tspan><tspan x="703.84" textLength="25.20" lengthAdjust="spacingAndGlyphs">m</tspan><tspan x="730.00" textLength="14.33" lengthAdjust="spacingAndGlyphs">v</tspan><tspan x="745.04" textLength="9.53" lengthAdjust="spacingAndGlyphs">-</tspan><tspan x="755.27" textLength="15.66" lengthAdjust="spacingAndGlyphs">P</tspan><tspan x="771.28" textLength="15.66" lengthAdjust="spacingAndGlyphs">P</tspan><tspan x="786.85" textLength="17.80" lengthAdjust="spacingAndGlyphs">C</tspan><tspan x="805.31" textLength="17.84" lengthAdjust="spacingAndGlyphs">A</tspan><tspan x="823.36" textLength="7.81" lengthAdjust="spacingAndGlyphs">,</tspan></text>
<text x="840.15" y="208.81" font-size="28.1" font-style="italic">d</text>
<text x="863.35" y="206.71" font-size="18.8" font-weight="bold" textLength="20.11" lengthAdjust="spacingAndGlyphs">=</text>
<text y="208.81" font-size="28.10"><tspan x="891.54" textLength="14.69" lengthAdjust="spacingAndGlyphs">5</tspan><tspan x="908.10" textLength="15.57" lengthAdjust="spacingAndGlyphs">0</tspan></text>
<path d="M571.4 238.15 H624.5" stroke="#8c564b" stroke-width="2.66" fill="none" stroke-linecap="butt" stroke-dasharray="2.66,4.38"/>
<path d="M597.95 232.84L596.76 236.51L592.9 236.51L596.02 238.78L594.83 242.45L597.95 240.18L601.07 242.45L599.88 238.78L603 236.51L599.14 236.51Z" fill="#8c564b" stroke="#8c564b" stroke-width="1.77" stroke-linejoin="bevel"/>
<text y="247.50" font-size="28.10"><tspan x="646.14" textLength="13.90" lengthAdjust="spacingAndGlyphs">F</tspan><tspan x="660.92" textLength="15.95" lengthAdjust="spacingAndGlyphs">e</tspan><tspan x="677.26" textLength="16.05" lengthAdjust="spacingAndGlyphs">d</tspan><tspan x="693.88" textLength="9.53" lengthAdjust="spacingAndGlyphs">-</tspan><tspan x="703.84" textLength="25.20" lengthAdjust="spacingAndGlyphs">m</tspan><tspan x="730.00" textLength="14.33" lengthAdjust="spacingAndGlyphs">v</tspan><tspan x="745.04" textLength="9.53" lengthAdjust="spacingAndGlyphs">-</tspan><tspan x="755.27" textLength="15.66" lengthAdjust="spacingAndGlyphs">P</tspan><tspan x="771.28" textLength="15.66" lengthAdjust="spacingAndGlyphs">P</tspan><tspan x="786.85" textLength="17.80" lengthAdjust="spacingAndGlyphs">C</tspan><tspan x="805.31" textLength="17.84" lengthAdjust="spacingAndGlyphs">A</tspan><tspan x="823.36" textLength="7.81" lengthAdjust="spacingAndGlyphs">,</tspan></text>
<text x="840.15" y="247.5" font-size="28.1" font-style="italic">d</text>
<text x="863.35" y="245.4" font-size="18.8" font-weight="bold" textLength="20.11" lengthAdjust="spacingAndGlyphs">=</text>
<text y="247.50" font-size="28.10"><tspan x="891.24" textLength="15.00" lengthAdjust="spacingAndGlyphs">2</tspan><tspan x="908.20" textLength="15.57" lengthAdjust="spacingAndGlyphs">0</tspan><tspan x="925.09" textLength="15.57" lengthAdjust="spacingAndGlyphs">0</tspan></text>
<path d="M571.4 276.84 H624.5" stroke="#e377c2" stroke-width="2.66" fill="none" stroke-linecap="square"/>
<path d="M597.95 282.15L592.64 271.53L603.26 271.53Z" fill="#e377c2" stroke="#e377c2" stroke-width="1.77" stroke-linejoin="miter"/>
<text y="286.19" font-size="28.10"><tspan x="645.75" textLength="19.84" lengthAdjust="spacingAndGlyphs">D</tspan><tspan x="666.58" textLength="13.90" lengthAdjust="spacingAndGlyphs">F</tspan><tspan x="681.52" textLength="25.20" lengthAdjust="spacingAndGlyphs">m</tspan><tspan x="707.66" textLength="15.66" lengthAdjust="spacingAndGlyphs">P</tspan><tspan x="723.01" textLength="9.53" lengthAdjust="spacingAndGlyphs">-</tspan><tspan x="733.24" textLength="15.79" lengthAdjust="spacingAndGlyphs">S</tspan><tspan x="749.88" textLength="18.94" lengthAdjust="spacingAndGlyphs">N</tspan><tspan x="769.33" textLength="7.81" lengthAdjust="spacingAndGlyphs">,</tspan></text>
<text x="786.11" y="286.19" font-size="28.1" font-style="italic">d</text>
<text x="809.32" y="284.09" font-size="18.8" font-weight="bold" textLength="20.11" lengthAdjust="spacingAndGlyphs">=</text>
<text y="286.19" font-size="28.10"><tspan x="836.53" textLength="14.87" lengthAdjust="spacingAndGlyphs">1</tspan><tspan x="853.19" textLength="15.57" lengthAdjust="spacingAndGlyphs">0</tspan></text>
<path d="M571.4 315.53 H624.5" stroke="#7f7f7f" stroke-width="2.66" fill="none" stroke-linecap="butt" stroke-dasharray="9.82,4.25"/>
<path d="M603.26 315.53L592.64 310.22L592.64 320.84Z" fill="#7f7f7f" stroke="#7f7f7f" stroke-width="1.77" stroke-linejoin="miter"/>
<text y="324.88" font-size="28.10"><tspan x="645.75" textLength="19.84" lengthAdjust="spacingAndGlyphs">D</tspan><tspan x="666.58" textLength="13.90" lengthAdjust="spacingAndGlyphs">F</tspan><tspan x="681.52" textLength="25.20" lengthAdjust="spacingAndGlyphs">m</tspan><tspan x="707.66" textLength="15.66" lengthAdjust="spacingAndGlyphs">P</tspan><tspan x="723.01" textLength="9.53" lengthAdjust="spacingAndGlyphs">-</tspan><tspan x="733.24" textLength="15.79" lengthAdjust="spacingAndGlyphs">S</tspan><tspan x="749.88" textLength="18.94" lengthAdjust="spacingAndGlyphs">N</tspan><tspan x="769.33" textLength="7.81" lengthAdjust="spacingAndGlyphs">,</tspan></text>
<text x="786.11" y="324.88" font-size="28.1" font-style="italic">d</text>
<text x="809.32" y="322.78" font-size="18.8" font-weight="bold" textLength="20.11" lengthAdjust="spacingAndGlyphs">=</text>
<text y="324.88" font-size="28.10"><tspan x="837.50" textLength="14.69" lengthAdjust="spacingAndGlyphs">5</tspan><tspan x="854.06" textLength="15.57" lengthAdjust="spacingAndGlyphs">0</tspan></text>
<path d="M571.4 354.22 H624.5" stroke="#bcbd22" stroke-width="2.66" fill="none" stroke-linecap="butt" stroke-dasharray="2.66,4.38"/>
<path d="M597.95 348.91L596.76 352.58L592.9 352.58L596.02 354.85L594.83 358.52L597.95 356.25L601.07 358.52L599.88 354.85L603 352.58L599.14 352.58Z" fill="#bcbd22" stroke="#bcbd22" stroke-width="1.77" stroke-linejoin="bevel"/>
<text y="363.57" font-size="28.10"><tspan x="645.75" textLength="19.84" lengthAdjust="spacingAndGlyphs">D</tspan><tspan x="666.58" textLength="13.90" lengthAdjust="spacingAndGlyphs">F</tspan><tspan x="681.52" textLength="25.20" lengthAdjust="spacingAndGlyphs">m</tspan><tspan x="707.66" textLength="15.66" lengthAdjust="spacingAndGlyphs">P</tspan><tspan x="723.01" textLength="9.53" lengthAdjust="spacingAndGlyphs">-</tspan><tspan x="733.24" textLength="15.79" lengthAdjust="spacingAndGlyphs">S</tspan><tspan x="749.88" textLength="18.94" lengthAdjust="spacingAndGlyphs">N</tspan><tspan x="769.33" textLength="7.81" lengthAdjust="spacingAndGlyphs">,</tspan></text>
<text x="786.11" y="363.57" font-size="28.1" font-style="italic">d</text>
<text x="809.32" y="361.47" font-size="18.8" font-weight="bold" textLength="20.11" lengthAdjust="spacingAndGlyphs">=</text>
<text y="363.57" font-size="28.10"><tspan x="837.20" textLength="15.00" lengthAdjust="spacingAndGlyphs">2</tspan><tspan x="854.17" textLength="15.57" lengthAdjust="spacingAndGlyphs">0</tspan><tspan x="871.06" textLength="15.57" lengthAdjust="spacingAndGlyphs">0</tspan></text>
</svg></body></html>
